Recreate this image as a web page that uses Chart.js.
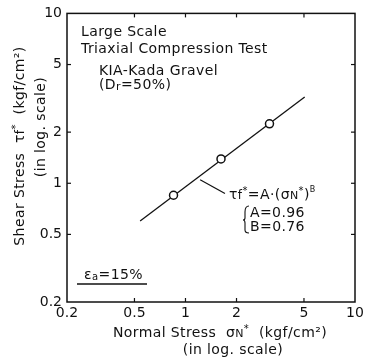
<!DOCTYPE html>
<html><head><meta charset="utf-8">
<script src="https://cdn.jsdelivr.net/npm/chart.js@4/dist/chart.umd.min.js"></script>
<style>html,body{margin:0;padding:0;background:#fff}#wrap{width:367px;height:357px}</style>
</head><body><div id="wrap"><canvas id="c" width="367" height="357"></canvas></div>
<script>
// ---- data ----
const tickValues = [0.2, 0.5, 1, 2, 5, 10];
const tickLabels = ['0.2', '0.5', '1', '2', '5', '10'];
const normalStress = [0.85, 1.62, 3.13];
const shearStress = [0.85, 1.39, 2.24];
const fitX = [0.54, 5.05];
const fitY = [0.60, 3.22];
const leaderX = [1.22, 1.71];
const leaderY = [1.05, 0.87];

const INK = '#111';
const FONT = 'DejaVu Sans';
const FS = 14;

function toPts(xs, ys){ return xs.map((v,i)=>({x:v, y:ys[i]})); }

function drawRuns(ctx, x, y, parts, align){
  // parts: [text, scale, dy]
  ctx.textBaseline = 'middle';
  ctx.textAlign = 'left';
  let w = 0;
  parts.forEach(p=>{ ctx.font = Math.round(FS*(p[1]||1))+'px "'+FONT+'"'; w += ctx.measureText(p[0]).width; });
  let cx = align==='center' ? x - w/2 : x;
  parts.forEach(p=>{
    ctx.font = Math.round(FS*(p[1]||1))+'px "'+FONT+'"';
    ctx.fillText(p[0], cx, y + (p[2]||0));
    cx += ctx.measureText(p[0]).width;
  });
}

const decor = {
  id: 'decor',
  afterDraw(chart){
    const {ctx, chartArea:a, scales:{x, y}} = chart;
    ctx.save();
    ctx.strokeStyle = INK; ctx.fillStyle = INK;
    ctx.lineWidth = 1.5;
    ctx.strokeRect(a.left, a.top, a.right-a.left, a.bottom-a.top);
    ctx.lineWidth = 1.2;
    const line = (x1,y1,x2,y2)=>{ ctx.beginPath(); ctx.moveTo(x1,y1); ctx.lineTo(x2,y2); ctx.stroke(); };
    const tl = 4;
    tickValues.slice(1,-1).forEach(v=>{
      const px = x.getPixelForValue(v), py = y.getPixelForValue(v);
      line(px, a.bottom, px, a.bottom-tl); line(px, a.top, px, a.top+tl);
      line(a.left, py, a.left+tl, py); line(a.right, py, a.right-tl, py);
    });
    ctx.letterSpacing = '0.4px';
    // axis titles
    ctx.save();
    ctx.translate(20, 146); ctx.rotate(-Math.PI/2);
    drawRuns(ctx, 0, 0, [['Shear Stress  τ'], ['f',0.85,1], ['*',0.7,-4], ['  (kgf/cm²)']], 'center');
    ctx.restore();
    ctx.save();
    ctx.translate(41, 127); ctx.rotate(-Math.PI/2);
    drawRuns(ctx, 0, 0, [['(in log. scale)']], 'center');
    ctx.restore();
    drawRuns(ctx, 220, 333, [['Normal Stress  σ'], ['N',0.75,1], ['*',0.7,-4], ['  (kgf/cm²)']], 'center');
    drawRuns(ctx, 233, 350, [['(in log. scale)']], 'center');
    // annotations
    drawRuns(ctx, 81, 32, [['Large Scale']]);
    drawRuns(ctx, 81, 49, [['Triaxial Compression Test']]);
    drawRuns(ctx, 99, 71, [['KIA-Kada Gravel']]);
    drawRuns(ctx, 99, 85, [['(D'], ['r',0.75,2], ['=50%)']]);
    drawRuns(ctx, 84, 275, [['ε'], ['a',0.7,2], ['=15%']]);
    ctx.lineWidth = 1.3;
    line(77, 284, 147, 284);
    drawRuns(ctx, 229, 195, [['τ'], ['f',0.85,1], ['*',0.7,-4], ['=A·(σ'], ['N',0.75,1], ['*',0.7,-4], [')'], ['B',0.6,-5]]);
    ctx.lineWidth = 1.1;
    ctx.beginPath();
    ctx.moveTo(249, 206); ctx.quadraticCurveTo(245, 206, 245, 212);
    ctx.lineTo(245, 218); ctx.quadraticCurveTo(245, 220, 243, 220);
    ctx.quadraticCurveTo(245, 220, 245, 223);
    ctx.lineTo(245, 230); ctx.quadraticCurveTo(245, 233, 249, 233);
    ctx.stroke();
    drawRuns(ctx, 250, 213, [['A=0.96']]);
    drawRuns(ctx, 250, 227, [['B=0.76']]);
    ctx.restore();
  }
};

const tickCb = (v)=>{ const i = tickValues.findIndex(t=>Math.abs(t-v)<1e-9); return i>=0 ? tickLabels[i] : ''; };
const setTicks = (s)=>{ s.ticks = tickValues.map(v=>({value:v})); };

new Chart(document.getElementById('c'), {
  type: 'scatter',
  data: {
    datasets: [
      { data: toPts(normalStress, shearStress), pointRadius: 4, pointBorderWidth: 1.5,
        pointBackgroundColor: '#fff', pointBorderColor: INK, showLine: false },
      { data: toPts(fitX, fitY), showLine: true, pointRadius: 0, borderColor: INK, borderWidth: 1.3 },
      { data: toPts(leaderX, leaderY), showLine: true, pointRadius: 0, borderColor: INK, borderWidth: 1.2 }
    ]
  },
  options: {
    responsive: false, animation: false, devicePixelRatio: 1,
    layout: { padding: { top: 13, right: 12, left: 0, bottom: 0 } },
    plugins: { legend: { display: false }, tooltip: { enabled: false } },
    scales: {
      x: { type: 'logarithmic', min: 0.2, max: 10,
        afterBuildTicks: setTicks, afterFit: s=>{ s.height = 55; },
        grid: { display: false, drawTicks: false }, border: { display: false },
        ticks: { callback: tickCb, autoSkip: false, maxRotation: 0, padding: 3, color: INK,
          font: { family: FONT, size: FS } } },
      y: { type: 'logarithmic', min: 0.2, max: 10,
        afterBuildTicks: setTicks, afterFit: s=>{ s.width = 67; },
        grid: { display: false, drawTicks: false }, border: { display: false },
        ticks: { callback: tickCb, autoSkip: false, padding: 5, color: INK,
          font: { family: FONT, size: FS } } }
    }
  },
  plugins: [decor]
});
</script></body></html>
